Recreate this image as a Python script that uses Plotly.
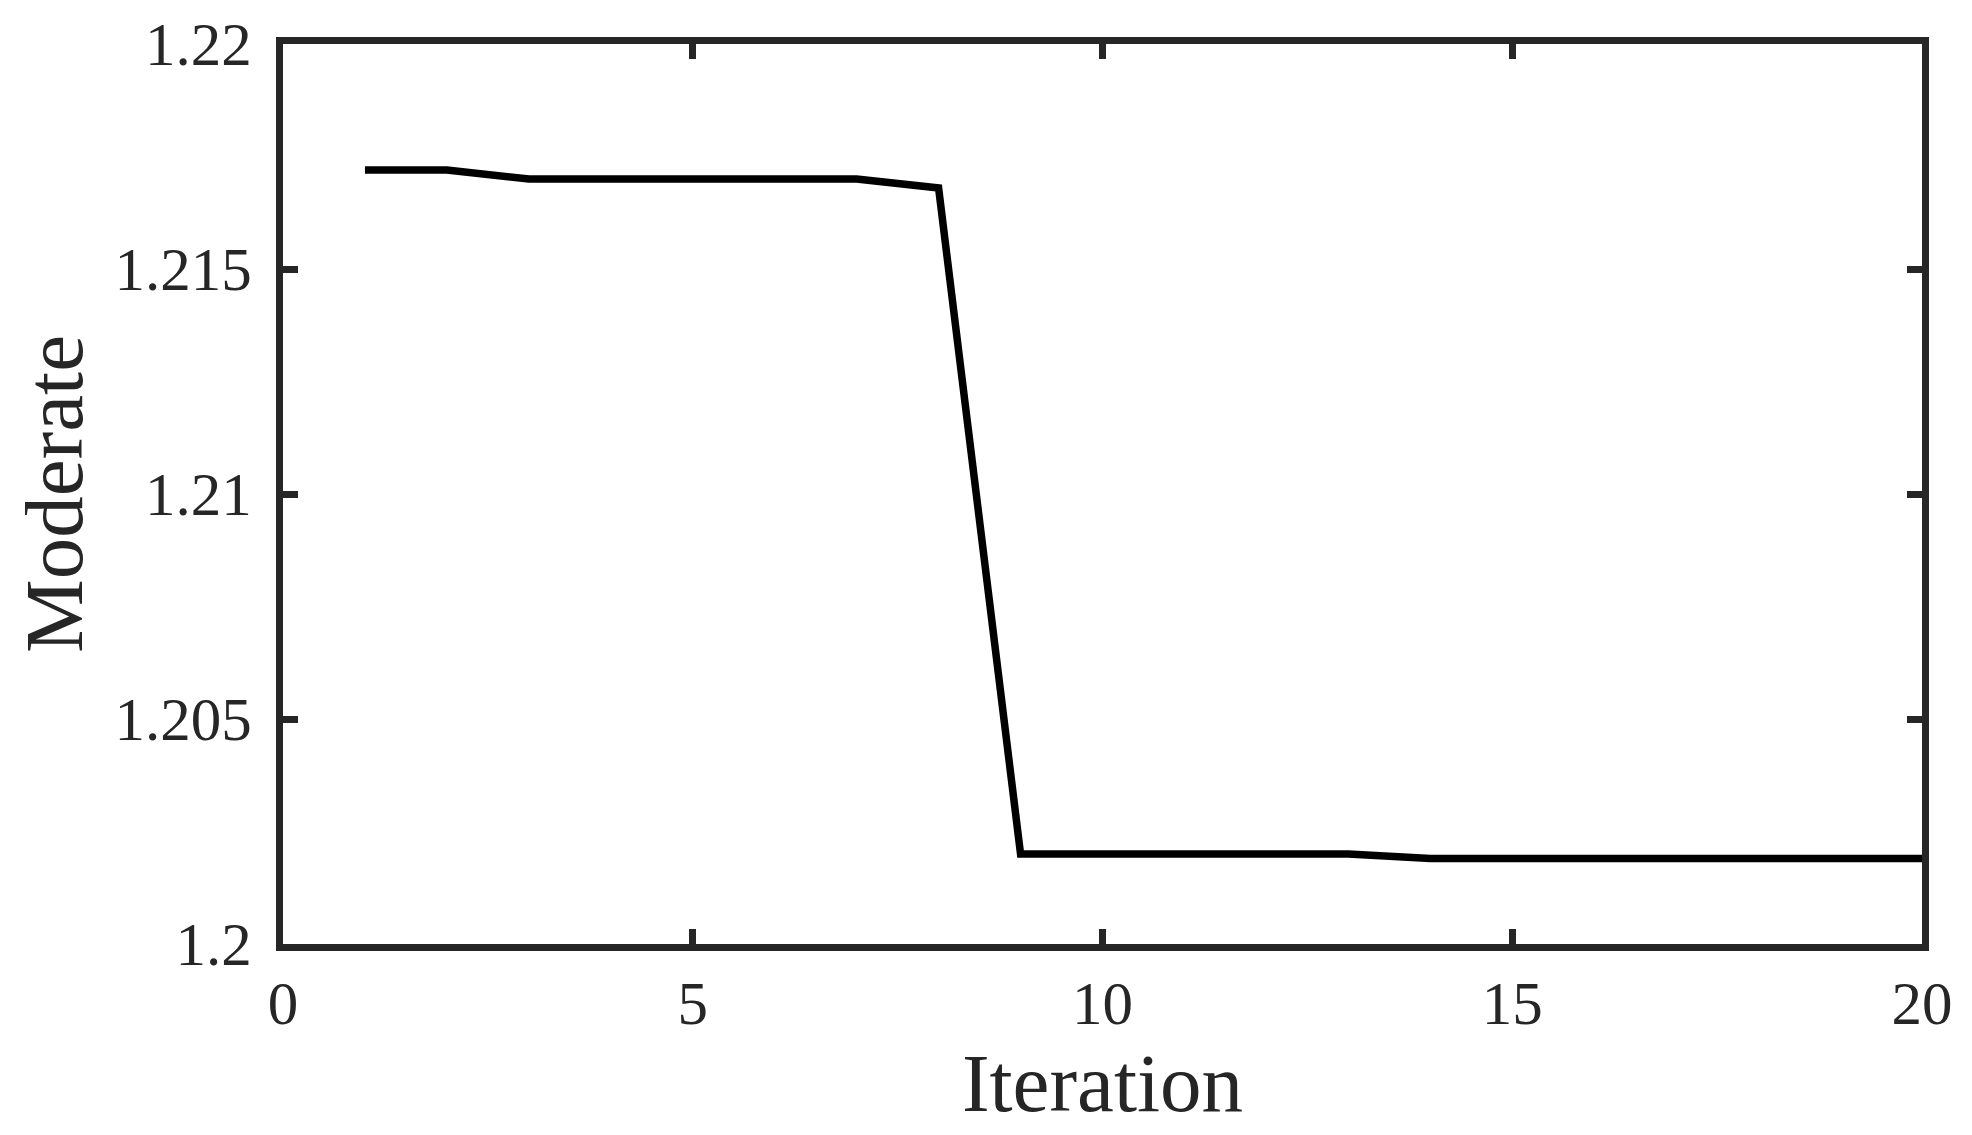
import plotly.graph_objects as go

iterations = list(range(1, 21))
moderate = [1.2172, 1.2172, 1.2170, 1.2170, 1.2170, 1.2170, 1.2170, 1.2168,
            1.2020, 1.2020, 1.2020, 1.2020, 1.2020, 1.2019, 1.2019, 1.2019,
            1.2019, 1.2019, 1.2019, 1.2019]
x_ticks = [0, 5, 10, 15, 20]
y_ticks = [1.2, 1.205, 1.21, 1.215, 1.22]
y_tick_labels = ["1.2", "1.205", "1.21", "1.215", "1.22"]

fig = go.Figure()
fig.add_trace(go.Scatter(x=iterations, y=moderate, mode="lines",
                         line=dict(color="black", width=7.5), showlegend=False))

axis_color = "#262626"
font_family = "Liberation Serif, Times New Roman, serif"

fig.update_layout(
    width=1972, height=1135,
    margin=dict(l=275, r=58, t=36, b=199, autoexpand=False),
    paper_bgcolor="white", plot_bgcolor="white",
    font=dict(family=font_family, color=axis_color, size=61),
    xaxis=dict(
        range=[0, 20], tickvals=x_ticks, ticktext=[str(v) for v in x_ticks],
        showgrid=False, zeroline=False, showline=True, linecolor=axis_color,
        linewidth=7, mirror="ticks", ticks="inside", ticklen=15, tickwidth=7,
        tickcolor=axis_color, tickfont=dict(size=61, color=axis_color),
        title=dict(text="Iteration", font=dict(size=83, color=axis_color), standoff=10),
    ),
    yaxis=dict(
        range=[1.2, 1.22], tickvals=y_ticks, ticktext=y_tick_labels,
        showgrid=False, zeroline=False, showline=True, linecolor=axis_color,
        linewidth=7, mirror="ticks", ticks="inside", ticklen=15, tickwidth=7,
        tickcolor=axis_color, tickfont=dict(size=61, color=axis_color),
        ticklabelstandoff=12,
        title=dict(text="Moderate", font=dict(size=83, color=axis_color), standoff=14),
    ),
)

fig.write_html("out.html")
